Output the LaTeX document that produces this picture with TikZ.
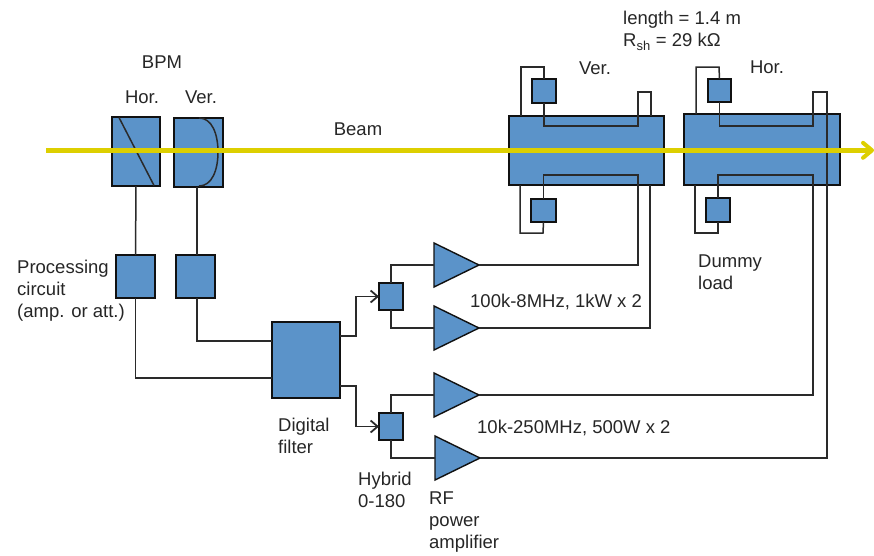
\documentclass[tikz,border=0pt]{standalone}
\usepackage{fontspec}
\setmainfont{Liberation Sans}
\usetikzlibrary{shapes.geometric,arrows.meta}
\definecolor{fillblue}{HTML}{5B93C9}
\definecolor{beamy}{HTML}{DDCF00}
\definecolor{inkc}{HTML}{111111}
\definecolor{wirec}{HTML}{2A2A2A}
\tikzset{
  blk/.style={draw=inkc,line width=1.8pt,fill=fillblue,inner sep=0pt,outer sep=0pt,minimum width=#1},
  wire/.style={draw=wirec,line width=1.5pt,line join=miter},
  amp/.style={isosceles triangle,isosceles triangle stretches,shape border rotate=0,anchor=apex,draw=inkc,line width=1.4pt,fill=fillblue,inner sep=0pt,outer sep=0pt,minimum width=44pt,minimum height=45pt},
  lbl/.style={inner sep=0pt,anchor=west,align=left,text=black!85,font=\fontsize{18.5}{22}\selectfont},
  ctr/.style={inner sep=0pt,text=black!85,font=\fontsize{18.5}{22}\selectfont},
  arr/.style={wire,-{Straight Barb[length=7pt,width=12pt,line width=1.8pt]}}
}
\begin{document}
\begin{tikzpicture}[x=1pt,y=-1pt]
\useasboundingbox (0,0) rectangle (874,555);
% cavities
\node[blk=155pt,minimum height=69pt] (cv) at (586.5,150.5) {};
\node[blk=156pt,minimum height=71pt] (ch) at (762,149.5) {};
% BPM
\node[blk=48pt,minimum height=69pt] (bh) at (136,151.5) {};
\node[blk=49pt,minimum height=69pt] (bv) at (198.5,152.5) {};
% dummy loads
\node[blk=24pt,minimum height=24pt] (lvt) at (544,91) {};
\node[blk=25pt,minimum height=23pt] (lvb) at (543.5,210.5) {};
\node[blk=23pt,minimum height=23pt] (lht) at (719.5,90.5) {};
\node[blk=24pt,minimum height=24pt] (lhb) at (718,210) {};
% processing
\node[blk=39pt,minimum height=43pt] (ph) at (135.5,276.5) {};
\node[blk=39pt,minimum height=43pt] (pv) at (195.5,276.5) {};
% filter, hybrids
\node[blk=68pt,minimum height=76pt] (df) at (306,360) {};
\node[blk=24pt,minimum height=27pt] (hy1) at (391,296.5) {};
\node[blk=24pt,minimum height=27pt] (hy2) at (391,426.5) {};
% amplifiers
\node[amp] (a1) at (479,265) {};
\node[amp] (a2) at (479,328) {};
\node[amp] (a3) at (479,395) {};
\node[amp] (a4) at (480,458) {};
% free ends on cavities
\coordinate (cvt1) at (521,116);
\coordinate (cvb1) at (520,185);
\coordinate (cvt2) at (651,116);
\coordinate (cvb2) at (650,185);
\coordinate (cht1) at (696,114);
\coordinate (chb1) at (695,185);
% BPM internals
\draw[wire] (119,117.5) -- (154,185.5);
\draw[wire] (199,118) .. controls (212,118) and (218,134) .. (218,152) .. controls (218,170) and (212,186) .. (199,186);
% Ver cavity wires
\draw[wire] (cvt1) |- (544,67) -- (lvt.north);
\draw[wire] (lvt.south) |- (638,126) |- (651,92) -- (cvt2);
\draw[wire] (cvb1) |- (543,233) -- (lvb.south);
\draw[wire] (lvb.north) |- (638,175) -- (638,265) -- (a1.apex);
\draw[wire] (cvb2) -- (650,328) -- (a2.apex);
% Hor cavity wires
\draw[wire] (cht1) |- (719,67) -- (lht.north);
\draw[wire] (lht.south) |- (813,126) |- (827,92) -- (827,458) -- (a4.apex);
\draw[wire] (chb1) |- (718,233) -- (lhb.south);
\draw[wire] (lhb.north) |- (813,175) -- (813,395) -- (a3.apex);
% BPM to processing to filter
\draw[wire] (bh.south) -- (ph.north);
\draw[wire] (197,187) -- (197,255);
\draw[wire] (ph.south) |- (272,378);
\draw[wire] (pv.south) ++(1.5,0) |- (272,341);
% filter to hybrids
\draw[arr] (340,336) -| (356,296.5) -- (hy1.west);
\draw[arr] (340,386) -| (356,426.5) -- (hy2.west);
% hybrids to amps
\draw[wire] (hy1.north) |- (a1.west);
\draw[wire] (hy1.south) |- (a2.west);
\draw[wire] (hy2.north) |- (a3.west);
\draw[wire] (hy2.south) |- (a4.west);
% beam
\coordinate (bs) at (46,150.3);
\coordinate (be) at (874,150.3);
\draw[draw=beamy,line width=4.4pt,-{Straight Barb[round,length=9pt,width=15pt,line width=4pt]}] (bs) -- (be);
% labels
\node[ctr] (tbpm) at (162,62) {BPM};
\node[ctr] (th) at (142,97) {Hor.};
\node[ctr] (tv) at (201,97) {Ver.};
\node[ctr] (tb) at (358,129) {Beam};
\node[ctr] (tcv) at (595,68) {Ver.};
\node[ctr] (tch) at (767,67) {Hor.};
\node[lbl] (tl) at (623,20) {length = 1.4 m};
\node[lbl] (tr) at (623,42) {R\textsubscript{sh} = 29 kΩ};
\node[lbl] (tp) at (17,290.5) {Processing\\circuit\\(amp. or att.)};
\node[lbl] (td) at (278,436) {Digital\\filter};
\node[lbl] (thy) at (358,490) {Hybrid\\0-180};
\node[lbl] (trf) at (429,522) {RF\\power\\amplifier};
\node[lbl] (tdl) at (698,272) {Dummy\\load};
\node[lbl] (t1) at (470,302) {100k-8MHz, 1kW x 2};
\node[lbl] (t2) at (477,428) {10k-250MHz, 500W x 2};
\end{tikzpicture}
\end{document}
